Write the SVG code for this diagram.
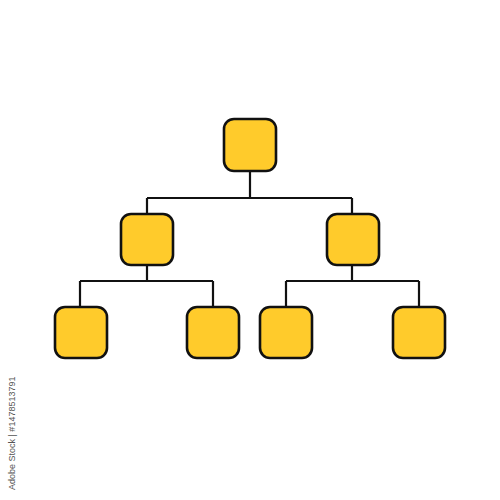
<svg xmlns="http://www.w3.org/2000/svg" width="500" height="500" viewBox="0 0 500 500">
<style>
.n{fill:#FFCB2B;stroke:#111;stroke-width:2.6}
.c{fill:none;stroke:#111;stroke-width:2.2}
.wm{font-family:"Liberation Sans",Arial,sans-serif;font-size:9px;fill:#555}
</style>
<rect width="500" height="500" fill="#fff"/>
<g id="connectors">
<path class="c" d="M250 171V198M147 198H352M147 198V214M352 198V214"/>
<path class="c" d="M147 265V281M80 281H213M80 281V307M213 281V307"/>
<path class="c" d="M352 265V281M286 281H419M286 281V307M419 281V307"/>
</g>
<g id="root"><rect class="n" x="224" y="119" width="52" height="52" rx="10"/></g>
<g id="mid-left"><rect class="n" x="121" y="214" width="52" height="51" rx="10"/></g>
<g id="mid-right"><rect class="n" x="327" y="214" width="52" height="51" rx="10"/></g>
<g id="leaf-1"><rect class="n" x="55" y="307" width="52" height="51" rx="10"/></g>
<g id="leaf-2"><rect class="n" x="187" y="307" width="52" height="51" rx="10"/></g>
<g id="leaf-3"><rect class="n" x="260" y="307" width="52" height="51" rx="10"/></g>
<g id="leaf-4"><rect class="n" x="393" y="307" width="52" height="51" rx="10"/></g>
<text class="wm" transform="translate(15 490) rotate(-90)">Adobe Stock | #1478513791</text>
</svg>
